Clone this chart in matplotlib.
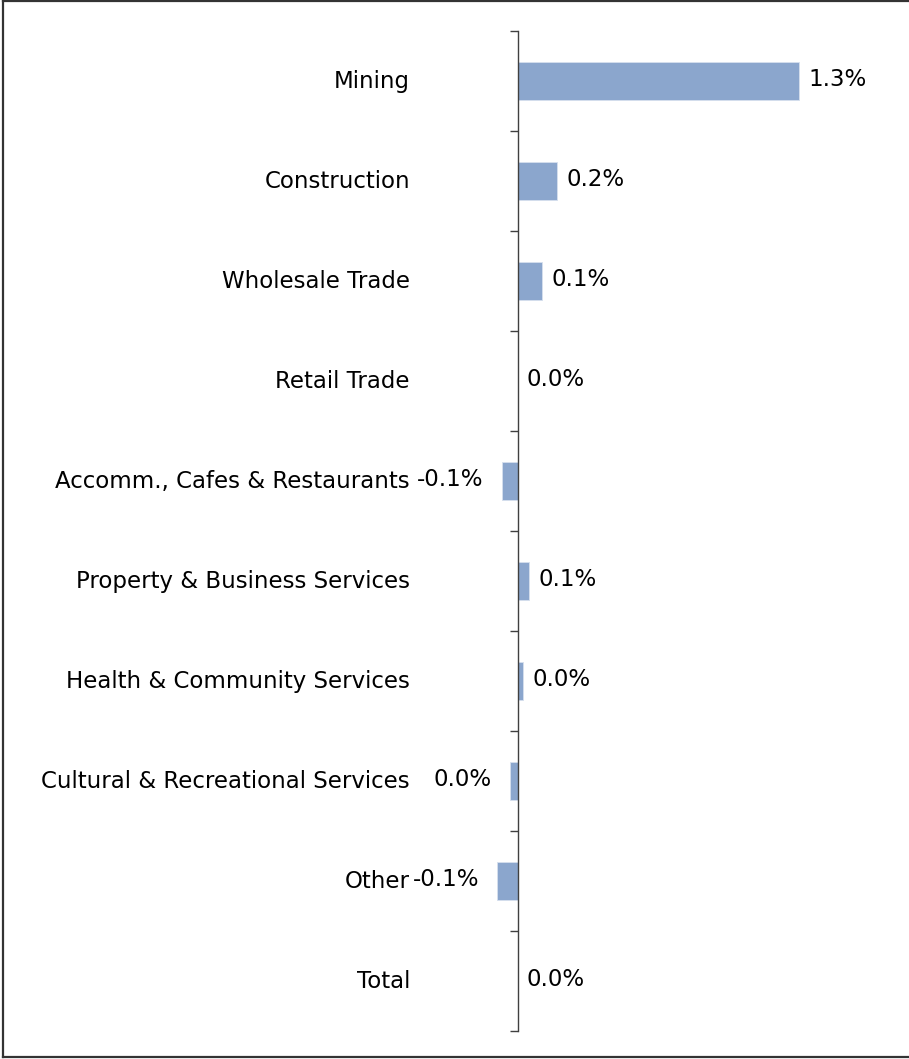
import matplotlib.pyplot as plt
from matplotlib.lines import Line2D
import matplotlib.transforms as mtransforms
import numpy as np

plt.rcParams['font.family'] = ['DejaVu Sans']

industries = ["Mining", "Construction", "Wholesale Trade", "Retail Trade",
              "Accomm., Cafes & Restaurants", "Property & Business Services",
              "Health & Community Services", "Cultural & Recreational Services",
              "Other", "Total"]
contrib = [1.30, 0.182, 0.112, 0.0, -0.076, 0.052, 0.025, -0.037, -0.097, 0.0]

fig = plt.figure(figsize=(9.09, 10.59), dpi=100)
ax = fig.add_axes([0.4746, 0.0264, 0.5, 0.9443])

y = np.arange(len(industries))
ax.barh(y, contrib, height=0.38, color="#8ba6cd", edgecolor="#d6e0ee", linewidth=0.6)

for yi, v in zip(y, contrib):
    r = round(v, 1)
    txt = f"{abs(r):.1f}%" if r == 0 else f"{r:.1f}%"
    if v < 0:
        ax.annotate(txt, (v, yi), xytext=(-18, 2), textcoords="offset pixels",
                    ha="right", va="center", fontsize=16.5)
    else:
        ax.annotate(txt, (v, yi), xytext=(9, 2), textcoords="offset pixels",
                    ha="left", va="center", fontsize=16.5)

ax.set_xlim(-0.4, 1.7)
ax.set_ylim(len(industries) - 0.5, -0.5)

for s in ["top", "right", "bottom"]:
    ax.spines[s].set_visible(False)
ax.spines["left"].set_position(("data", 0))
ax.spines["left"].set_color("#404040")
ax.spines["left"].set_linewidth(1.0)

ax.set_xticks([])
ax.set_yticks(y)
ax.set_yticklabels(industries, fontsize=16.5)
ax.set_yticks(np.arange(-0.5, len(industries), 1.0), minor=True)
ax.tick_params(axis="y", which="major", length=0, pad=77.8)
ax.tick_params(axis="y", which="minor", length=5.8, width=1.0, color="#404040", direction="out")

# nudge category labels up a little
shift = mtransforms.ScaledTranslation(0, 2 / 100, fig.dpi_scale_trans)
for lab in ax.get_yticklabels():
    lab.set_transform(lab.get_transform() + shift)

# outer frame
fig.add_artist(Line2D([3 / 909, 1], [1 - 1 / 1059, 1 - 1 / 1059], transform=fig.transFigure, color="#333333", lw=1.6))
fig.add_artist(Line2D([3 / 909, 3 / 909], [1 - 1057 / 1059, 1], transform=fig.transFigure, color="#333333", lw=1.6))
fig.add_artist(Line2D([3 / 909, 1], [1 - 1057 / 1059, 1 - 1057 / 1059], transform=fig.transFigure, color="#333333", lw=1.6))

fig.savefig("out.png", dpi=100)
